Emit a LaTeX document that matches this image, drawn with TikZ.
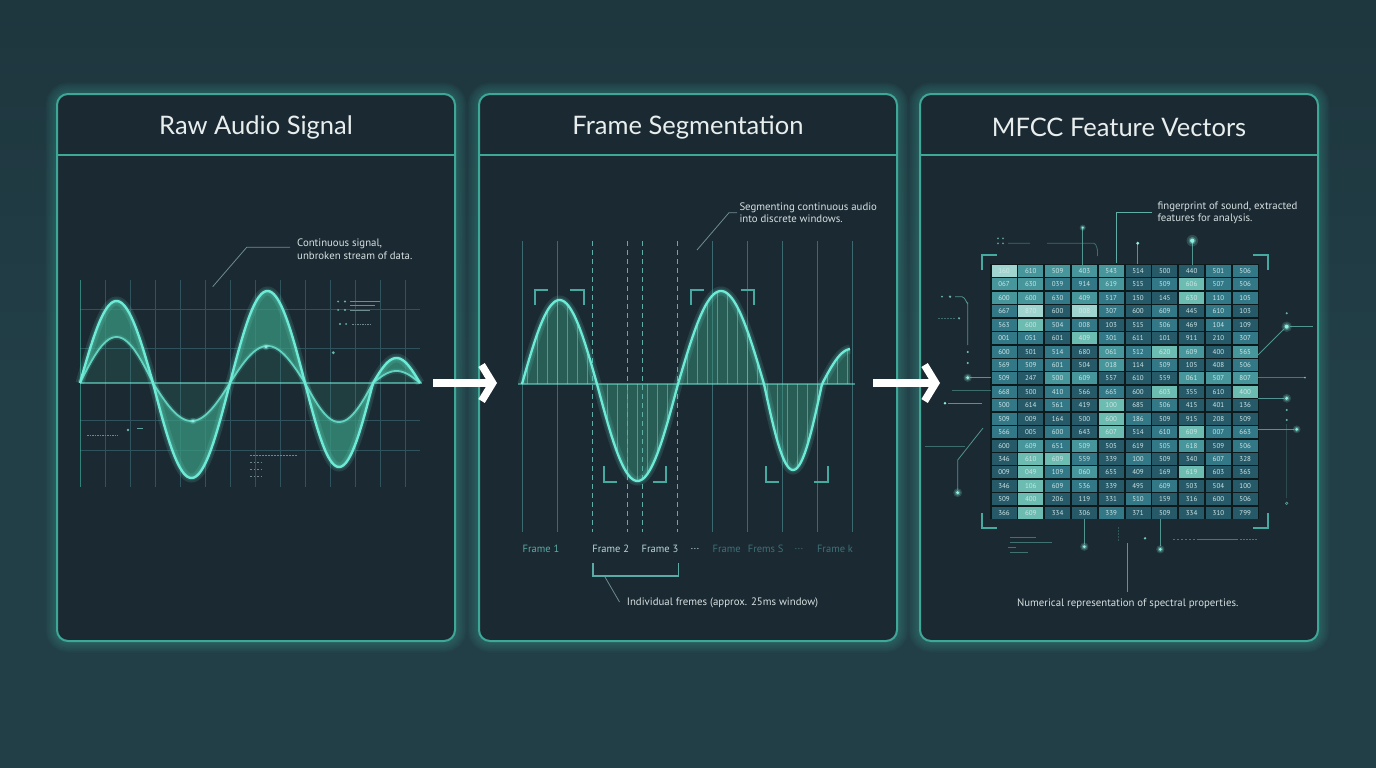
\documentclass[tikz,border=0pt]{standalone}
\usepackage{fontspec}
\setmainfont{Lato}
\newfontfamily\smallfont{PT Sans}
\usetikzlibrary{arrows.meta,calc}
\definecolor{bg}{RGB}{34,62,71}
\definecolor{bgtop}{RGB}{30,54,62}
\definecolor{panelfill}{RGB}{27,41,50}
\definecolor{border}{RGB}{62,168,152}
\definecolor{titletext}{RGB}{232,238,238}
\definecolor{wave}{RGB}{110,235,215}
\definecolor{wavefill}{RGB}{58,158,132}
\definecolor{gridc}{RGB}{48,82,92}
\definecolor{notetext}{RGB}{215,225,225}
\definecolor{leader}{RGB}{110,140,145}
\definecolor{bracket}{RGB}{70,170,160}
\definecolor{framec}{RGB}{90,170,165}
\definecolor{framelight}{RGB}{185,215,215}
\definecolor{framefade}{RGB}{62,112,118}
\definecolor{solidv}{RGB}{58,105,112}
\definecolor{dashv}{RGB}{95,175,168}
\definecolor{cd}{RGB}{38,90,105}
\definecolor{cm}{RGB}{50,120,135}
\definecolor{cl}{RGB}{70,150,155}
\definecolor{cb}{RGB}{108,188,178}
\definecolor{cw}{RGB}{160,212,206}
\definecolor{celltext}{RGB}{208,230,230}
\definecolor{dotc}{RGB}{140,240,225}
\newcommand\mfrow[2]{\foreach \lv/\tx [count=\ci] in {#2}{\node[cell,fill=c\lv] (m-#1-\ci) at ({1004+26.8*(\ci-1)},{271+13.43*(#1-1)}) {\tx};}}
\newcommand\gdot[3]{\fill[dotc,opacity=0.18] (#1,#2) circle ({#3*2.6pt});\fill[dotc,opacity=0.3] (#1,#2) circle ({#3*1.7pt});\fill[dotc] (#1,#2) circle ({#3*1pt});}
\begin{document}
\begin{tikzpicture}[x=1pt,y=-1pt,
  declare function={
    wa(\x)=(\x<153)?(82*sin((\x-80)/73*180)):((\x<230)?(-95*sin((\x-153)/77*180)):((\x<305)?(92*sin((\x-230)/75*180)):((\x<373)?(-84*sin((\x-305)/68*180)):(25*sin((\x-373)/47*180)))));
    wb(\x)=(\x<153)?(46*sin((\x-80)/73*180)):((\x<230)?(-38*sin((\x-153)/77*180)):((\x<305)?(37*sin((\x-230)/75*180)):((\x<373)?(-39*sin((\x-305)/68*180)):(12*sin((\x-373)/47*180)))));
    wc(\x)=(\x<597)?(84*sin((\x-522)/75*180)):((\x<678)?(-97*sin((\x-597)/81*180)):((\x<764)?(93*sin((\x-678)/86*180)):((\x<822)?(-86*sin((\x-764)/58*180)):(35*sin((\x-822)/58*180)))));
  },
  panel/.style={draw=border, line width=2pt, fill=panelfill, rounded corners=11pt, inner sep=0pt},
  title/.style={text=titletext, font=\fontsize{25.5}{30}\selectfont},
  note/.style={text=notetext, font=\smallfont\fontsize{10.8}{12.8}\selectfont, align=left, inner sep=0pt},
  lead/.style={draw=leader, line width=0.8pt},
  bigarrow/.style={draw=white, line width=7.5pt, -{Straight Barb[length=11pt,width=36pt]}},
  cell/.style={minimum width=25pt, minimum height=12pt, inner sep=0pt, text=celltext, font=\smallfont\fontsize{7}{8}\selectfont},
  brk/.style={draw=bracket, line width=2pt},
  flabel/.style={font=\smallfont\fontsize{10.5}{12}\selectfont, inner sep=0pt},
  glowline/.style={draw=wave, line width=#1, opacity=0.13},
  faint/.style={draw=gridc, line width=0.8pt},
  circ/.style={draw=dashv, line width=0.8pt, opacity=0.8}
]
\useasboundingbox (0,0) rectangle (1376,768);
\shade[top color=bgtop, bottom color=bg, middle color=bg] (0,0) rectangle (1376,768);

% panels with glow
\foreach \cx/\w in {256/398,688/418,1119/398}{
  \foreach \k in {1,...,7}{
    \draw[border, opacity=0.05, line width={2+3*\k}, rounded corners=11pt] ({\cx-\w/2},94) rectangle ({\cx+\w/2},641);
  }
}
\node[panel, minimum width=398pt, minimum height=547pt] (p1) at (256,367.5) {};
\node[panel, minimum width=418pt, minimum height=547pt] (p2) at (688,367.5) {};
\node[panel, minimum width=398pt, minimum height=547pt] (p3) at (1119,367.5) {};
\foreach \p in {p1,p2,p3}{
  \draw[border, line width=1.6pt] (\p.west |- 0,155) -- (\p.east |- 0,155);
}
\node[title] (t1) at (256,127) {Raw Audio Signal};
\node[title] (t2) at (688,127) {Frame Segmentation};
\node[title] (t3) at (1119,127) {MFCC Feature Vectors};

% ---------- panel 1 ----------
\foreach \x in {105.7,130.7,...,420}{ \draw[faint] (\x,280) -- (\x,487); }
\foreach \y in {309,348,420,450}{ \draw[faint] (80,\y) -- (420,\y); }
\draw[draw=border, opacity=0.7, line width=1.2pt] (80.7,280) -- (80.7,487);
\fill[wavefill, opacity=0.7] plot[domain=80:420, samples=220] (\x,{383-wa(\x)}) -- plot[domain=420:80, samples=220] (\x,{383-wb(\x)}) -- cycle;
\fill[wavefill, opacity=0.18] plot[domain=80:420, samples=220] (\x,{383-wb(\x)}) -- cycle;
\draw[draw=wave, opacity=0.55, line width=1.4pt] (80,383) -- (422,383);
\draw[glowline=9pt] plot[domain=80:420, samples=220] (\x,{383-wa(\x)});
\draw[glowline=5pt] plot[domain=80:420, samples=220] (\x,{383-wa(\x)});
\draw[draw=wave, line width=2.4pt] plot[domain=80:420, samples=220] (\x,{383-wa(\x)});
\draw[glowline=5pt] plot[domain=80:420, samples=220] (\x,{383-wb(\x)});
\draw[draw=wave, opacity=0.8, line width=1.8pt] plot[domain=80:420, samples=220] (\x,{383-wb(\x)});
\gdot{193}{421}{1.3}
\gdot{266}{347}{1.3}
% small decorations
\fill[dotc,opacity=0.7] (338,301.5) circle (1pt) (345,301.5) circle (1.2pt) (338,310) circle (1pt) (345,310) circle (1.2pt) (340,324) circle (1.1pt) (346,324) circle (1pt) (333.3,352.7) circle (1.6pt);
\draw[leader, line width=0.7pt] (350,301.5) -- (380,301.5) (350,305) -- (375,305) (350,310) -- (370,310);
\draw[gridc!70!white, line width=1pt, dash pattern=on 1.5pt off 1pt] (352,324) -- (371,324);
\draw[gridc!70!white, line width=1pt, dash pattern=on 1.5pt off 1pt] (87,435) -- (118,435);
\fill[dotc,opacity=0.7] (128,430) circle (1.3pt);
\draw[dotc,opacity=0.6, line width=1pt] (137,428.5) -- (143,428.5);
\draw[gridc!70!white, line width=1pt, dash pattern=on 1.5pt off 1.5pt] (250,455) -- (298,455);
\draw[gridc!70!white, line width=1pt, dash pattern=on 1.5pt off 2pt] (250,462) -- (264,462) (250,469) -- (264,469) (250,476) -- (264,476);
\coordinate (n1a) at (290,247.3);
\coordinate (n1b) at (246.7,247.3);
\coordinate (n1c) at (212.7,286.7);
\draw[lead] (n1a) -- (n1b) -- (n1c);
\node[note, anchor=west] (note1) at (297,249) {Continuous signal,\\unbroken stream of data.};

% ---------- panel 2 ----------
\foreach \x in {522.7,557.7,712.7,747.7,782.7,817.7,852.7}{ \draw[draw=solidv, line width=1pt] (\x,241) -- (\x,532); }
\fill[wavefill, opacity=0.45] plot[domain=522:850, samples=220] (\x,{384-wc(\x)}) -- (850,384) -- cycle;
\begin{scope}
  \clip plot[domain=522:850, samples=220] (\x,{384-wc(\x)}) -- (850,384) -- cycle;
  \foreach \x in {527,537,...,850}{ \draw[draw=wave, opacity=0.45, line width=0.9pt] (\x,280) -- (\x,490); }
\end{scope}
\foreach \x in {592.7,627.7,642.7,677.7}{ \draw[draw=dashv, line width=1.3pt, dash pattern=on 5pt off 4pt] (\x,241) -- (\x,532); }
\draw[draw=wave, opacity=0.5, line width=1.3pt] (518,384) -- (855,384);
\draw[glowline=9pt] plot[domain=522:850, samples=220] (\x,{384-wc(\x)});
\draw[glowline=5pt] plot[domain=522:850, samples=220] (\x,{384-wc(\x)});
\draw[draw=wave, line width=2.3pt] plot[domain=522:850, samples=220] (\x,{384-wc(\x)});
% corner brackets
\draw[brk] (535,305) -- (535,290) -- (548,290);
\draw[brk] (570,290) -- (584,290) -- (584,305);
\draw[brk] (690.7,305) -- (690.7,290) -- (704,290);
\draw[brk] (740.7,290) -- (754,290) -- (754,305);
\draw[brk] (604,466) -- (604,482) -- (617,482);
\draw[brk] (653,482) -- (666,482) -- (666,466);
\draw[brk] (765.7,466) -- (765.7,482) -- (779,482);
\draw[brk] (814,482) -- (827.7,482) -- (827.7,466);
% frame labels
\node[flabel, text=framec] (f1) at (541,549.3) {Frame 1};
\node[flabel, text=framelight] (f2) at (610.7,549.3) {Frame 2};
\node[flabel, text=framelight] (f3) at (660,549.3) {Frame 3};
\node[flabel, text=framelight] (fd1) at (695,549.3) {...};
\node[flabel, text=framefade] (f4) at (726.7,549.3) {Frame};
\node[flabel, text=framefade] (f5) at (765.7,549.3) {Frems S};
\node[flabel, text=framefade] (fd2) at (799,549.3) {...};
\node[flabel, text=framefade] (fk) at (835,549.3) {Frame k};
\draw[draw=framec, line width=1.6pt] (592.7,563.3) -- (592.7,576) -- (678.3,576) -- (678.3,563.3);
\coordinate (n3a) at (605,577);
\coordinate (n3b) at (619.5,602);
\draw[lead] (n3a) -- (n3b);
\node[note, anchor=west] (note3) at (626.7,603.3) {Individual fremes (approx. 25ms window)};
\coordinate (n2a) at (737,212.7);
\coordinate (n2b) at (729,212.7);
\coordinate (n2c) at (697,250);
\draw[lead] (n2a) -- (n2b) -- (n2c);
\node[note, anchor=west] (note2) at (739.3,212.7) {Segmenting continuous audio\\into discrete windows.};

% ---------- panel 3 ----------
\fill[black!60!bg] (990,264) rectangle (1259,519);
\mfrow{1}{w/160,l/610,l/509,l/403,l/543,d/514,d/500,d/440,m/501,m/506}
\mfrow{2}{l/067,l/630,m/039,m/914,l/619,d/515,m/509,b/606,m/507,m/506}
\mfrow{3}{l/600,l/600,m/630,l/409,m/517,d/150,d/145,b/630,m/110,m/105}
\mfrow{4}{m/667,w/870,d/600,w/008,m/307,d/600,m/609,d/445,m/610,d/103}
\mfrow{5}{m/563,b/600,m/504,m/008,d/103,d/515,m/506,d/469,m/104,d/109}
\mfrow{6}{m/001,m/051,d/601,b/409,m/301,d/611,d/101,d/911,d/210,m/307}
\mfrow{7}{m/600,d/501,m/514,d/680,l/061,m/512,b/620,l/609,d/400,l/565}
\mfrow{8}{m/569,m/509,m/601,d/504,l/018,d/114,m/509,d/105,d/408,m/506}
\mfrow{9}{m/509,d/247,l/500,l/609,d/557,d/610,d/559,l/061,l/507,l/807}
\mfrow{10}{m/668,d/500,m/410,d/566,m/665,d/600,b/603,d/355,d/610,b/400}
\mfrow{11}{m/500,d/614,m/561,d/419,b/100,d/685,m/506,d/415,d/401,d/136}
\mfrow{12}{m/509,d/009,d/164,d/500,b/600,m/186,d/509,d/915,d/208,d/509}
\mfrow{13}{m/566,d/005,m/600,d/643,b/607,d/514,m/610,b/609,m/007,m/663}
\mfrow{14}{d/600,l/609,m/651,l/509,d/505,d/619,m/505,l/618,d/509,m/506}
\mfrow{15}{d/346,b/610,b/609,m/559,d/339,m/100,d/509,d/340,m/607,d/328}
\mfrow{16}{d/009,b/049,m/109,l/060,d/655,d/409,d/169,b/619,d/603,d/365}
\mfrow{17}{d/346,b/106,m/609,m/536,d/339,d/495,m/609,d/503,d/504,d/100}
\mfrow{18}{d/509,b/400,d/206,d/119,d/331,m/510,d/159,d/316,d/600,d/506}
\mfrow{19}{d/366,b/609,d/334,d/306,m/339,d/371,d/509,d/334,d/310,d/799}
% corner brackets
\draw[brk] (981.7,270) -- (981.7,255) -- (996.7,255);
\draw[brk] (1253,255) -- (1267.7,255) -- (1267.7,270);
\draw[brk] (981.7,513) -- (981.7,528) -- (996.7,528);
\draw[brk] (1253,528) -- (1267.7,528) -- (1267.7,513);
% circuit lines
\draw[circ] (1082.7,229) -- (1082.7,265);
\gdot{1082.7}{227.7}{1.2}
\draw[circ] (1137.7,244) -- (1137.7,264);
\fill[dotc] (1137.7,243.3) circle (1.6pt);
\draw[circ] (1192.3,241) -- (1192.3,265);
\gdot{1192.3}{240.7}{2.2}
\fill[dotc,opacity=0.6] (998,238.3) circle (1pt) (1003,238.3) circle (1pt) (998,243.3) circle (1pt) (1003,243.3) circle (1pt);
\draw[circ, opacity=0.5] (1008,243.3) -- (1030,243.3) (1047,243.3) -- (1094,243.3) to[out=0,in=-90] (1097.5,250) -- (1097.5,256);
\coordinate (n4a) at (1116.7,263.3);
\coordinate (n4b) at (1116.7,212.7);
\coordinate (n4c) at (1151.7,212.7);
\draw[lead, draw=dashv] (n4a) -- (n4b) -- (n4c);
\node[note, anchor=west] (note4) at (1157.3,212.7) {fingerprint of sound, extracted\\features for analysis.};
% left side
\fill[dotc,opacity=0.7] (942,296.7) circle (1pt) (950,296.7) circle (1.3pt);
\draw[circ] (955,296.7) -- (962,296.7) to[out=0,in=-90] (967.7,303) -- (967.7,345);
\fill[dotc,opacity=0.8] (967.7,352) circle (1.2pt) (967.7,363) circle (1.2pt);
\draw[circ, opacity=0.5, dash pattern=on 2pt off 1pt] (938,318.3) -- (955,318.3);
\fill[dotc,opacity=0.7] (959,318.3) circle (1.2pt);
\draw[circ] (970,377.7) -- (991,377.7);
\gdot{967.7}{377.7}{1.6}
\draw[circ, opacity=0.5] (951.7,390) -- (991,390);
\draw[circ] (948,403.3) -- (981.7,403.3);
\fill[dotc] (945,403.3) circle (1.4pt);
\draw[circ, opacity=0.5] (925,446.7) -- (965,446.7);
\draw[circ] (983,428) -- (957.7,460) -- (957.7,490);
\gdot{957.7}{492.7}{1.7}
% right side
\gdot{1286.7}{326.7}{2}
\draw[circ] (1290,326.7) -- (1313,326.7);
\draw[circ] (1284,329) -- (1258,355);
\fill[dotc,opacity=0.7] (1286.7,313.3) circle (1.1pt);
\draw[circ, opacity=0.6] (1258,377.7) -- (1305,377.7);
\fill[dotc,opacity=0.7] (1305,377.7) circle (1pt);
\draw[circ] (1258,398.3) -- (1284,398.3);
\gdot{1286.7}{398.3}{1.7}
\draw[circ] (1258,429.3) -- (1294,429.3);
\gdot{1296.7}{429.3}{1.5}
\fill[dotc,opacity=0.7] (1286.7,410) circle (1.1pt) (1286.7,420) circle (1.1pt);
\draw[dotc,opacity=0.6, line width=0.6pt] (1286.7,503.3) circle (1.3pt);
\draw[circ, opacity=0.25] (1286.7,424) -- (1286.7,498);
% bottom
\draw[circ] (1084.3,519) -- (1084.3,544);
\gdot{1084.3}{546.7}{1.6}
\draw[circ] (1160.3,519) -- (1160.3,546);
\gdot{1160.3}{549.3}{1.6}
\fill[dotc,opacity=0.8] (1145,538.3) circle (1.3pt);
\draw[circ, opacity=0.6, dash pattern=on 1.5pt off 2.5pt] (1173,539) -- (1195,539);
\draw[circ, opacity=0.6] (1197,539) -- (1238,539);
\draw[circ, opacity=0.6, dash pattern=on 1.5pt off 1.5pt] (1240,539) -- (1258,539);
\draw[circ, opacity=0.35, dash pattern=on 1.5pt off 1.5pt] (1118.3,527) -- (1118.3,541);
\draw[circ, opacity=0.55, line width=1pt] (1010,537) -- (1036,537) (1010,542) -- (1052,542) (1008,547) -- (1016,547) (1010,552) -- (1028,552);
\coordinate (n5a) at (1127.7,543);
\coordinate (n5b) at (1127.7,592);
\draw[lead] (n5a) -- (n5b);
\node[note, anchor=center] (note5) at (1127.7,603.3) {Numerical representation of spectral properties.};

% ---------- arrows between panels ----------
\coordinate (a1s) at (433,383);
\coordinate (a1e) at (497,383);
\coordinate (a2s) at (873,383);
\coordinate (a2e) at (940,383);
\draw[bigarrow] (a1s) -- (a1e);
\draw[bigarrow] (a2s) -- (a2e);
\end{tikzpicture}
\end{document}
